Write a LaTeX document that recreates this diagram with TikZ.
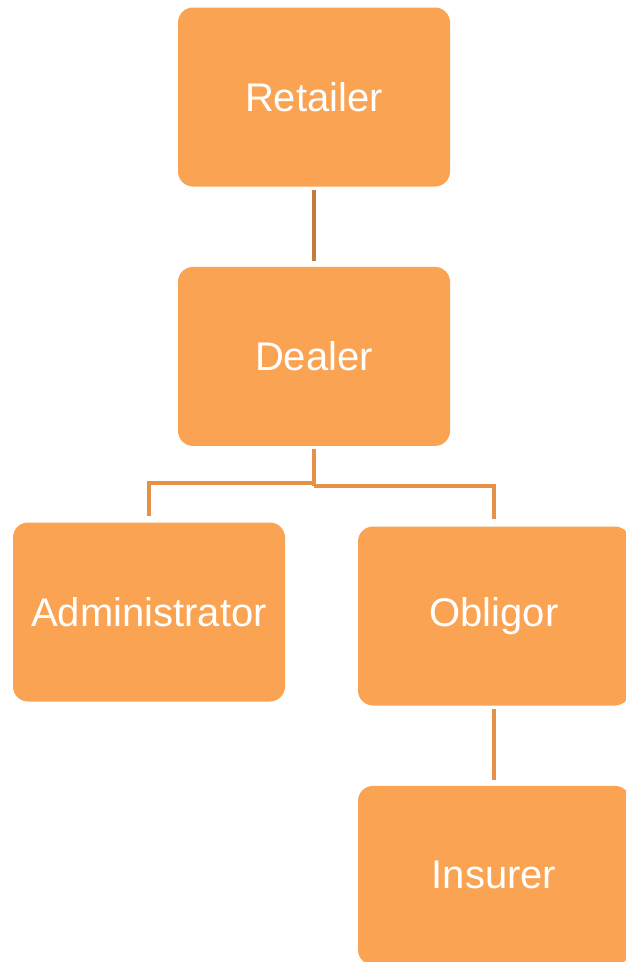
\documentclass[tikz,border=0pt]{standalone}
\usepackage{fontspec}
\setmainfont{Liberation Sans}
\usetikzlibrary{positioning}
\definecolor{boxfill}{HTML}{F9A353}
\definecolor{linkcol}{HTML}{E59148}
\definecolor{linkdark}{HTML}{C47C3E}

\begin{document}
\begin{tikzpicture}[x=1pt, y=-1pt,
                  box/.style={fill=boxfill, rounded corners=15pt, text=white,
                              font=\fontsize{40}{48}\selectfont,
                              minimum width=272pt, minimum height=179pt, inner sep=0pt},
                  link/.style={draw=linkcol, line width=4.5pt},
                  node distance=80pt and 1cm,
            ]
            \useasboundingbox (0,0) rectangle (625,962);
            \node[box] (retailer) at (314,97) {Retailer};
            \node[box, below=of retailer] (dealer) {Dealer};
            \node[box] (admin) at (149,612) {Administrator};
            \node[box] (obligor) at (494,616) {Obligor};
            \node[box, below=of obligor] (insurer) {Insurer};

            \draw[link, draw=linkdark, shorten <=3pt, shorten >=6pt] (retailer) -- (dealer);
            \draw[link, shorten <=3pt] (dealer.south) -- ++(0,40) coordinate (fork);
            \draw[link, shorten >=6pt] ([yshift=3pt]fork) -| (admin.north);
            \draw[link, shorten >=7pt] (fork) -| (obligor.north);
            \draw[link, shorten <=3pt, shorten >=6pt] (obligor) -- (insurer);
      \end{tikzpicture}
\end{document}
